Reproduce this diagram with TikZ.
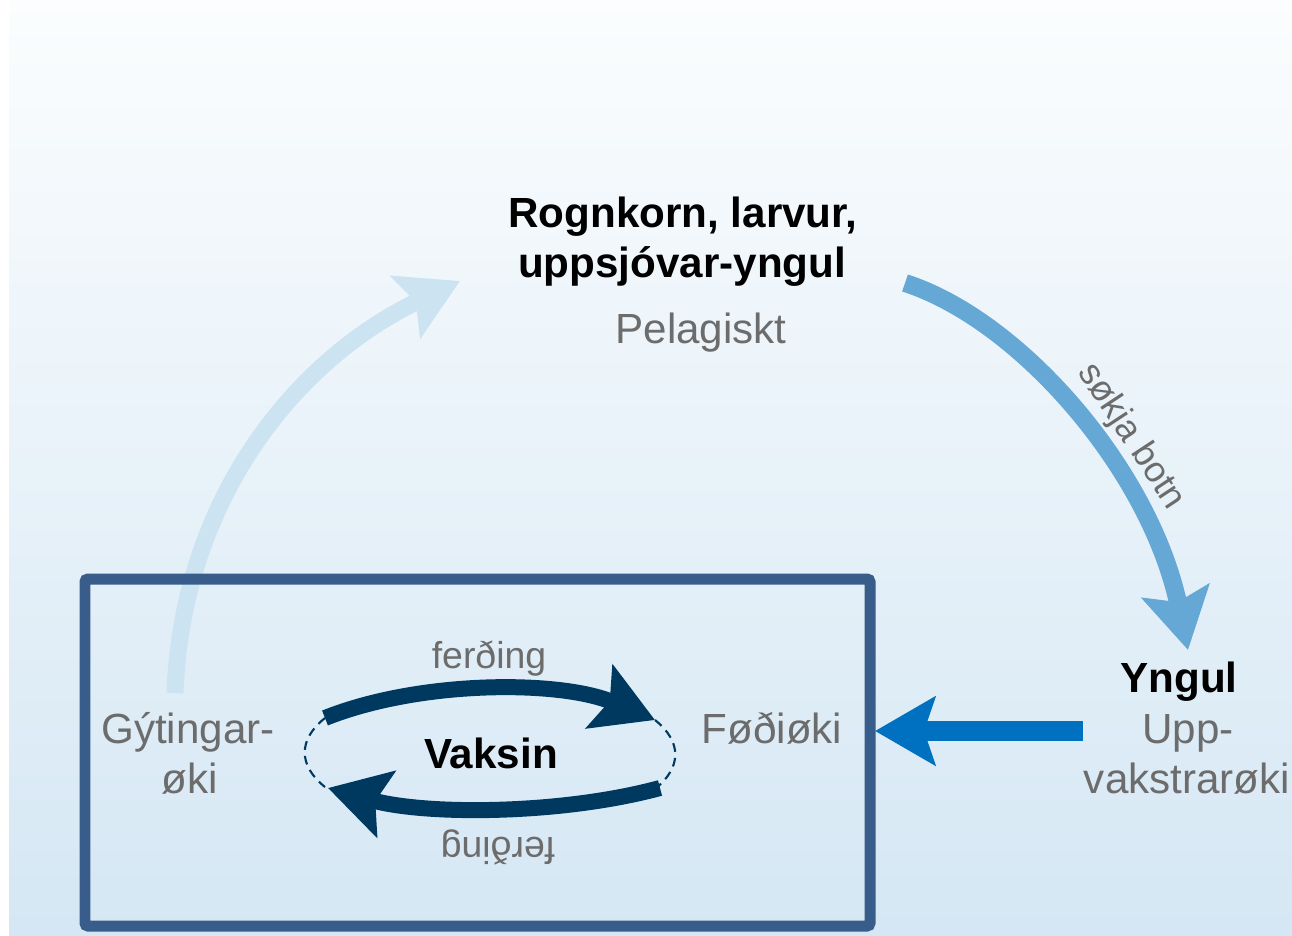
\documentclass[tikz,border=0pt]{standalone}
\usepackage{fontspec}
\setmainfont{Liberation Sans}
\usetikzlibrary{arrows.meta}

\definecolor{bgtop}{RGB}{251,253,254}
\definecolor{bgbottom}{RGB}{213,231,244}
\definecolor{pelblue}{RGB}{204,227,241}
\definecolor{botnblue}{RGB}{101,168,214}
\definecolor{uppblue}{RGB}{0,112,192}
\definecolor{navy}{RGB}{0,57,96}
\definecolor{boxblue}{RGB}{56,93,138}
\definecolor{placegray}{RGB}{108,108,108}

\tikzset{
  stage/.style={font=\bfseries\fontsize{24}{28}\selectfont, text=black, inner sep=0pt, anchor=base},
  place/.style={font=\fontsize{24}{28}\selectfont, text=placegray, inner sep=0pt, anchor=base},
  trip/.style={font=\fontsize{21.3}{25}\selectfont, text=placegray, inner sep=0pt, anchor=base},
  fat arrow/.style={line width=#1, -{Stealth[length=1.2cm, width=1.36cm, inset=0.22cm]}}
}

\begin{document}
\begin{tikzpicture}[x=0.02cm, y=-0.02cm]
  \useasboundingbox (0,0) rectangle (1292,936);
  \fill[white] (0,0) rectangle (1292,936);
  \shade[top color=bgtop, bottom color=bgbottom] (9,0) rectangle (1292,936);

  % stages
  \node[stage] (rogn1) at (683,227) {Rognkorn, larvur,};
  \node[stage] (rogn2) at (682,277) {uppsjóvar-yngul};
  \node[place] (pelag) at (701,343) {Pelagiskt};
  \node[stage] (yngul) at (1179,692) {Yngul};
  \node[place] (upp1) at (1188,743) {Upp-};
  \node[place] (upp2) at (1187,793) {vakstrarøki};
  \node[place] (gyt1) at (188,743) {Gýtingar-};
  \node[place] (gyt2) at (190,793) {øki};
  \node[place] (fodi) at (772,743) {Føðiøki};
  \node[stage] (vaksin) at (491,768) {Vaksin};
  \node[trip] (ferd1) at (489,668) {ferðing};
  \node[trip, rotate=180] (ferd2) at (498,837) {ferðing};

  % arrow ends
  \coordinate (gyt-out) at (175,693);
  \coordinate (rogn-in) at (460,281);
  \coordinate (rogn-out) at (905,283);
  \coordinate (yngul-in) at (1188,650);
  \coordinate (upp-out) at (1083,731);
  \coordinate (fodi-in) at (875,731);
  \coordinate (fer-a) at (325,718);
  \coordinate (fer-b) at (655,720);
  \coordinate (fer-c) at (660,788);
  \coordinate (fer-d) at (328,788);

  \draw[pelblue, fat arrow=0.34cm] (gyt-out) .. controls (182,500) and (295,360) .. (rogn-in);
  \draw[botnblue, fat arrow=0.36cm] (rogn-out) .. controls (1020,320) and (1150,470) .. (yngul-in)
    node[pos=0.6, sloped, above=0.1cm, trip, anchor=south, font=\fontsize{20.5}{24}\selectfont] (sokja) {søkja botn};

  \draw[boxblue, line width=0.22cm, rounded corners=0.06cm] (85,579) rectangle (870,926);

  \draw[uppblue, fat arrow=0.39cm] (upp-out) -- (fodi-in);

  % the loop inside the box
  \draw[navy, line width=1.2pt, dash pattern=on 5pt off 3.5pt] (fer-a) arc[start angle=-153, end angle=-207, x radius=186, y radius=76];
  \draw[navy, line width=1.2pt, dash pattern=on 5pt off 3.5pt] (fer-b) arc[start angle=-27, end angle=27, x radius=186, y radius=76];
  \draw[navy, fat arrow=0.32cm] (fer-a) .. controls (420,680) and (560,680) .. (fer-b);
  \draw[navy, fat arrow=0.32cm] (fer-c) .. controls (560,815) and (425,815) .. (fer-d);
\end{tikzpicture}
\end{document}
